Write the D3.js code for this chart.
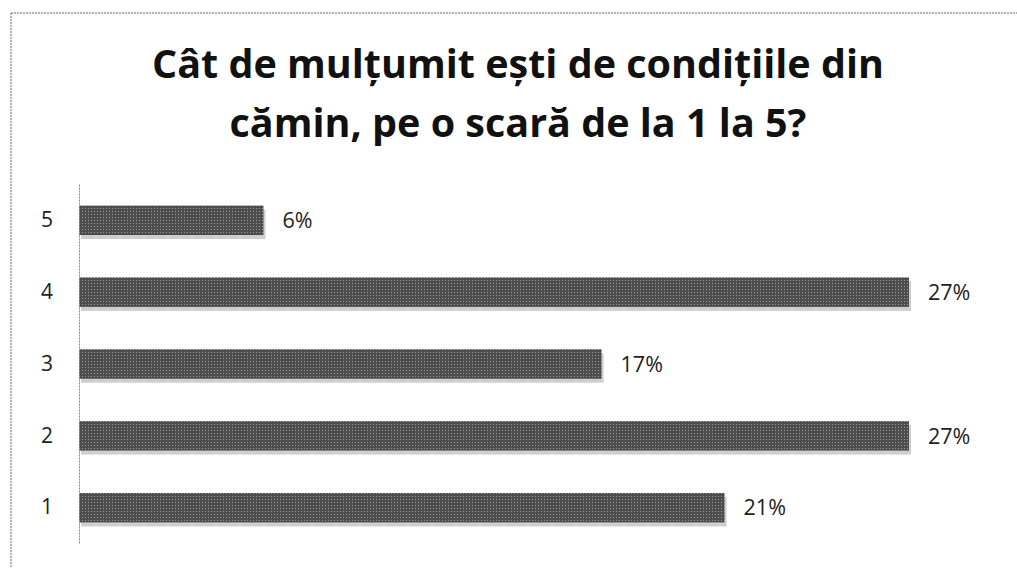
<!DOCTYPE html>
<html>
<head>
	<meta charset="utf-8">
	<title>Cât de mulțumit ești</title>
	<script src="https://cdn.jsdelivr.net/npm/d3@7/dist/d3.min.js"></script>
	<style>
		body { margin: 0; background: #fff; }
		svg { display: block; }
		.title { font-family: "Open Sans", sans-serif; font-weight: bold; fill: #111; }
		.lbl { font-family: "Open Sans", sans-serif; fill: #222; }
	</style>
</head>
<body>
	<svg id="chart" width="1017" height="568"></svg>
	<script>
		// data
		var categories = ['5', '4', '3', '2', '1'];
		var values = [6, 27, 17, 27, 21];
		var labels = ['6%', '27%', '17%', '27%', '21%'];
		var titleLines = ['Cât de mulțumit ești de condițiile din', 'cămin, pe o scară de la 1 la 5?'];

		var svg = d3.select('#chart'),
			width = +svg.attr('width'),
			height = +svg.attr('height');

		// halftone-ish fill like the scan
		var defs = svg.append('defs');
		var pat = defs.append('pattern')
			.attr('id', 'dots')
			.attr('width', 3).attr('height', 3)
			.attr('patternUnits', 'userSpaceOnUse');
		pat.append('rect').attr('width', 3).attr('height', 3).attr('fill', '#4d4d4d');
		pat.append('rect').attr('x', 1).attr('y', 1).attr('width', 1).attr('height', 1).attr('fill', '#9a9a9a');

		// frame (scanned border)
		svg.append('line')
			.attr('x1', 11).attr('y1', 13).attr('x2', width).attr('y2', 13)
			.attr('stroke', '#999').attr('stroke-width', 1.5).attr('stroke-dasharray', '2,1');
		svg.append('line')
			.attr('x1', 11).attr('y1', 13).attr('x2', 11).attr('y2', height)
			.attr('stroke', '#999').attr('stroke-width', 1.5).attr('stroke-dasharray', '2,1');

		svg.append('g')
			.selectAll('text')
			.data(titleLines)
			.enter()
			.append('text')
			.attr('class', 'title')
			.attr('x', 518)
			.attr('y', (d, i) => 78 + i * 59)
			.attr('text-anchor', 'middle')
			.attr('font-size', 39.5)
			.text(d => d);

		var x = d3.scaleLinear()
			.domain([0, 27])
			.range([79, 909]);

		var y = d3.scaleBand()
			.domain(categories)
			.range([184, 544])
			.paddingInner(0.59)
			.paddingOuter(0.3);

		var rows = svg.append('g')
			.selectAll('g')
			.data(categories)
			.enter()
			.append('g');

		// shadow
		rows.append('rect')
			.attr('x', x(0) + 2)
			.attr('y', d => y(d) + 4)
			.attr('width', (d, i) => x(values[i]) - x(0))
			.attr('height', y.bandwidth())
			.attr('fill', '#cfcfcf');

		rows.append('rect')
			.attr('x', x(0))
			.attr('y', d => y(d))
			.attr('width', (d, i) => x(values[i]) - x(0))
			.attr('height', y.bandwidth())
			.attr('fill', 'url(#dots)');

		rows.append('text')
			.attr('class', 'lbl')
			.attr('x', (d, i) => x(values[i]) + 19)
			.attr('y', d => y(d) + y.bandwidth() / 2)
			.attr('dy', '0.36em')
			.attr('font-size', 21.5)
			.text((d, i) => labels[i]);

		// category axis
		var axis = svg.append('g')
			.attr('transform', 'translate(' + x(0) + ',0)')
			.call(d3.axisLeft(y).tickSize(0).tickPadding(26));
		axis.select('.domain')
			.attr('stroke', '#888')
			.attr('stroke-dasharray', '2,1');
		axis.selectAll('text')
			.attr('class', 'lbl')
			.attr('font-size', 21);
	</script>
</body>
</html>
